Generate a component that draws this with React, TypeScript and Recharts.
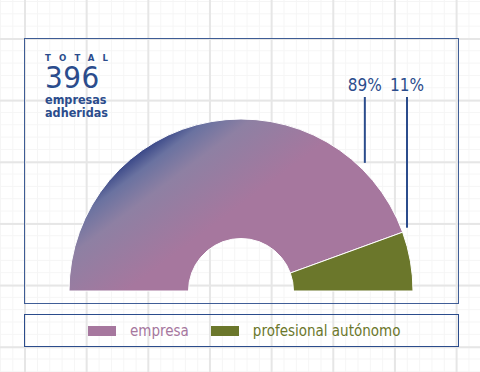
import { PieChart, Pie, Cell, Legend } from 'recharts'

const categories = ['empresa', 'profesional autónomo']
const counts = [352, 44]
const pctLabels = ['89%', '11%']
const total = 396
const colors = ['url(#empresaGrad)', '#6b772b']
const legendColors = ['#a6779e', '#6b772b']

const data = categories.map((name, i) => ({ name, value: counts[i], pct: pctLabels[i] }))

const blue = '#2b4c8c'
const font = '"DejaVu Sans Condensed", "DejaVu Sans", sans-serif'

const CX = 241
const CY = 291
const R_IN = 52.5
const R_OUT = 172

// label line positions as fraction of outer radius (x offset, line bottom height)
const labelPos = [
  { dx: 0.72, bottom: 0.745 },
  { dx: 0.965, bottom: 0.368 },
]

const renderLabel = (props: any) => {
  const { cx, cy, outerRadius, index } = props
  const p = labelPos[index]
  const x = cx + p.dx * outerRadius
  const top = cy - 1.128 * outerRadius
  return (
    <g>
      <text x={x} y={top - 6} textAnchor="middle" fill={blue} fontSize={17} fontFamily={font}>
        {data[index].pct}
      </text>
      <line x1={x} x2={x} y1={top} y2={cy - p.bottom * outerRadius} stroke={blue} strokeWidth={2} />
    </g>
  )
}

const LegendContent = () => (
  <div style={{ display: 'flex', alignItems: 'center', height: '100%', fontFamily: font, fontSize: 15, paddingLeft: 63 }}>
    {categories.map((c, i) => (
      <div key={c} style={{ display: 'flex', alignItems: 'center', marginLeft: i ? 22 : 0 }}>
        <span style={{ width: 28, height: 10, background: legendColors[i], display: 'inline-block', marginRight: 14 }} />
        <span style={{ color: legendColors[i] }}>{c}</span>
      </div>
    ))}
  </div>
)

// gradient runs from the upper-left rim toward the lower right
const gDir = { x: 0.6, y: 0.8 }
const gLen = 0.6 * R_OUT
const gx1 = CX - gDir.x * R_OUT
const gy1 = CY - gDir.y * R_OUT

export default function App() {
  return (
    <div
      style={{
        position: 'absolute', left: 0, top: 0, width: 480, height: 372,
        background: '#fff',
        backgroundImage: [
          'linear-gradient(to right, #e6e6e6 1.5px, transparent 1.5px)',
          'linear-gradient(to bottom, #e6e6e6 1.5px, transparent 1.5px)',
          'linear-gradient(to right, #f5f5f5 1px, transparent 1px)',
          'linear-gradient(to bottom, #f5f5f5 1px, transparent 1px)',
        ].join(','),
        backgroundSize: '61.67px 61.67px, 61.67px 61.67px, 12.33px 12.33px, 12.33px 12.33px',
        backgroundPosition: '24px 0, 0 38px, 0 0, 0 1px',
        fontFamily: font,
      }}
    >
      <div style={{ position: 'absolute', left: 24, top: 38, width: 435, height: 266, border: `1px solid ${blue}`, boxSizing: 'border-box', opacity: 0.9 }} />
      <div style={{ position: 'absolute', left: 45, top: 53, color: blue, lineHeight: 1 }}>
        <div style={{ fontSize: 9.5, fontWeight: 600, letterSpacing: 8.2, lineHeight: '10px' }}>TOTAL</div>
        <div style={{ fontSize: 31, lineHeight: '29px', letterSpacing: 0.5 }}>{total}</div>
        <div style={{ fontSize: 12.5, fontWeight: 600, lineHeight: '13px', marginTop: 1 }}>empresas<br />adheridas</div>
      </div>
      <PieChart width={480} height={372} margin={{ top: 0, right: 0, bottom: 0, left: 0 }} style={{ position: 'absolute', left: 0, top: 0 }}>
        <defs>
          <linearGradient
            id="empresaGrad"
            gradientUnits="userSpaceOnUse"
            x1={gx1}
            y1={gy1}
            x2={gx1 + gDir.x * gLen}
            y2={gy1 + gDir.y * gLen}
          >
            <stop offset="0" stopColor="#3a4888" />
            <stop offset="0.15" stopColor="#6a72a0" />
            <stop offset="0.4" stopColor="#8e80a3" />
            <stop offset="1" stopColor="#a6779e" />
          </linearGradient>
        </defs>
        <Pie
          data={data}
          dataKey="value"
          nameKey="name"
          cx={CX}
          cy={CY}
          innerRadius={R_IN}
          outerRadius={R_OUT}
          startAngle={180}
          endAngle={0}
          stroke="#fff"
          strokeWidth={1}
          label={renderLabel}
          labelLine={false}
          isAnimationActive={false}
        >
          {data.map((d, i) => (
            <Cell key={d.name} fill={colors[i]} />
          ))}
        </Pie>
        <Legend
          content={<LegendContent />}
          wrapperStyle={{ left: 24, top: 314, width: 435, height: 33, bottom: 'auto', border: `1px solid ${blue}`, boxSizing: 'border-box' }}
        />
      </PieChart>
    </div>
  )
}
